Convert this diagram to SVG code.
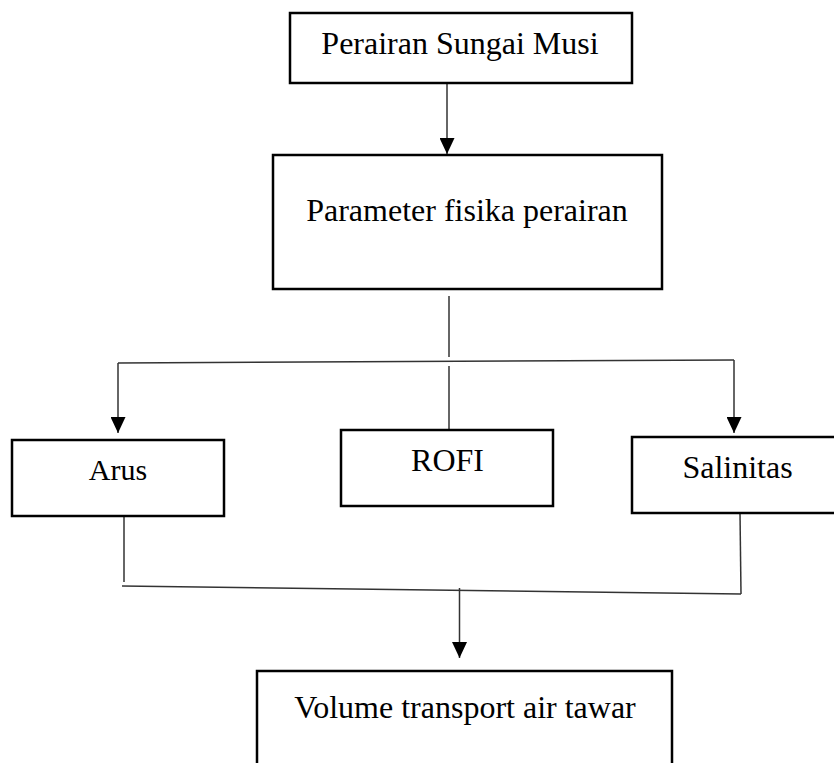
<svg xmlns="http://www.w3.org/2000/svg" width="834" height="763" viewBox="0 0 834 763">
<style>
.box{fill:#fff;stroke:#000;stroke-width:2.5}
.lbl{font-family:"Liberation Serif","Times New Roman",serif;font-size:32px;fill:#000;text-anchor:middle}
.c{fill:none;stroke:#333;stroke-width:1.5}
</style>
<defs>
<marker id="ah" viewBox="0 0 16 15" refX="16" refY="7.5" markerWidth="16" markerHeight="15" markerUnits="userSpaceOnUse" orient="auto">
<path d="M0,0 L16,7.5 L0,15 z" fill="#000"/>
</marker>
</defs>
<rect width="834" height="763" fill="#fff"/>
<g id="connectors">
<line class="c" x1="447" y1="83" x2="447" y2="154" marker-end="url(#ah)"/>
<line class="c" x1="449" y1="296" x2="449" y2="357"/>
<line class="c" x1="118" y1="363" x2="734" y2="360"/>
<line class="c" x1="449" y1="366" x2="449" y2="430"/>
<line class="c" x1="118" y1="363" x2="118" y2="433" marker-end="url(#ah)"/>
<line class="c" x1="734" y1="360" x2="734" y2="433" marker-end="url(#ah)"/>
<line class="c" x1="124" y1="516" x2="124" y2="582"/>
<line class="c" x1="740" y1="513" x2="741" y2="594"/>
<line class="c" x1="122" y1="586" x2="741" y2="594"/>
<line class="c" x1="459.5" y1="588" x2="459.5" y2="658" marker-end="url(#ah)"/>
</g>
<g id="node-perairan">
<rect class="box" x="290" y="13" width="342" height="70"/>
<text class="lbl" x="460" y="54">Perairan Sungai Musi</text>
</g>
<g id="node-parameter">
<rect class="box" x="273" y="155" width="389" height="134"/>
<text class="lbl" x="467" y="221">Parameter fisika perairan</text>
</g>
<g id="node-arus">
<rect class="box" x="12" y="440" width="212" height="76"/>
<text class="lbl" x="118" y="480" style="font-size:30px">Arus</text>
</g>
<g id="node-rofi">
<rect class="box" x="341" y="430" width="212" height="76"/>
<text class="lbl" x="447.5" y="471">ROFI</text>
</g>
<g id="node-salinitas">
<rect class="box" x="632" y="437" width="210" height="76"/>
<text class="lbl" x="737.5" y="478">Salinitas</text>
</g>
<g id="node-volume">
<rect class="box" x="257" y="671" width="415" height="110"/>
<text class="lbl" x="465" y="718">Volume transport air tawar</text>
</g>
</svg>
